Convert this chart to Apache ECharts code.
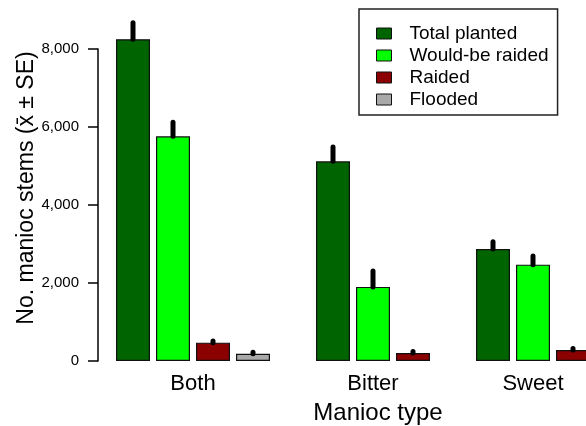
<!DOCTYPE html>
<html>
<head>
<meta charset="utf-8">
<script src="https://cdn.jsdelivr.net/npm/echarts@6/dist/echarts.min.js"></script>
<style>html,body{margin:0;padding:0;background:#fff;}#c{width:586px;height:426px;}</style>
</head>
<body>
<div id="c"></div>
<script>
// ---- data ----
var groups = ['Both', 'Bitter', 'Sweet'];
var seriesNames = ['Total planted', 'Would-be raided', 'Raided', 'Flooded'];
var totalPlanted   = [8250, 5120, 2870];
var wouldBeRaided  = [5760, 1900, 2470];
var raided         = [470, 205, 282];
var flooded        = [187, null, null];
var sePlanted      = [420, 370, 185];
var seWouldBe      = [365, 410, 220];
var seRaided       = [40, 40, 40];
var seFlooded      = [40, null, null];
var yTicks         = [0, 2000, 4000, 6000, 8000];

var colors = ['#006400', '#00FF00', '#8B0000', '#A9A9A9'];
var values = [totalPlanted, wouldBeRaided, raided, flooded];
var ses = [sePlanted, seWouldBe, seRaided, seFlooded];

// slot layout: bars side by side, one empty slot between groups
var pos = values.map(function(){ return []; });
var groupCenters = [];
var slot = 0;
groups.forEach(function(g, gi){
  var first = slot;
  values.forEach(function(arr, si){
    if (arr[gi] != null) { pos[si][gi] = slot; slot++; }
  });
  groupCenters.push((first + slot - 1) / 2);
  slot++;
});

var font = 'Liberation Sans, Arial, sans-serif';
var series = values.map(function(arr, si){
  var d = [];
  arr.forEach(function(v, gi){ if (v != null) d.push([pos[si][gi], v]); });
  return {
    name: seriesNames[si], type: 'bar', data: d, barWidth: 34, barGap: '-100%',
    clip: false,
    itemStyle: { color: colors[si], borderColor: '#111', borderWidth: 1.2 },
    emphasis: { disabled: true }
  };
});
var errData = [];
values.forEach(function(arr, si){
  arr.forEach(function(v, gi){ if (v != null) errData.push([pos[si][gi], v, v + ses[si][gi]]); });
});
series.push({
  type: 'custom', clip: false, data: errData, z: 10,
  renderItem: function(params, api){
    var p1 = api.coord([api.value(0), api.value(1)]);
    var p2 = api.coord([api.value(0), api.value(2)]);
    return { type: 'line', shape: { x1: p1[0], y1: p1[1], x2: p2[0], y2: p2[1] },
             style: { stroke: '#000', lineWidth: 5, lineCap: 'round' } };
  }
});

var chart = echarts.init(document.getElementById('c'), null, { renderer: 'canvas' });
chart.setOption({
  animation: false,
  backgroundColor: '#fff',
  grid: { left: 98, right: 0, top: 49, bottom: 65, containLabel: false, outerBoundsMode: 'none' },
  xAxis: {
    type: 'value', min: -0.875, max: 11.325,
    splitLine: { show: false }, axisLine: { show: false }, axisTick: { show: false },
    axisLabel: {
      customValues: groupCenters, margin: 12, fontSize: 22, fontFamily: font, color: '#000',
      showMinLabel: true, showMaxLabel: true,
      formatter: function(v){ var i = groupCenters.indexOf(v); return i >= 0 ? groups[i] : ''; }
    },
    name: 'Manioc type', nameLocation: 'middle', nameGap: 40, nameMoveOverlap: false,
    nameTextStyle: { fontSize: 24, fontFamily: font, color: '#000', padding: [0, 0, 0, 72] }
  },
  yAxis: {
    type: 'value', min: yTicks[0], max: yTicks[yTicks.length - 1], interval: 2000,
    splitLine: { show: false },
    axisLine: { show: true, onZero: false, lineStyle: { color: '#000', width: 1.5 } },
    axisTick: { show: true, length: 10, lineStyle: { color: '#000', width: 1.5 } },
    axisLabel: { margin: 19, fontSize: 15, fontFamily: font, color: '#000',
      formatter: function(v){ return v.toLocaleString('en-US'); } },
    name: 'No. manioc stems (x\u0304 \u00b1 SE)', nameLocation: 'middle', nameGap: 60, nameRotate: 90,
    nameMoveOverlap: false,
    nameTextStyle: { fontSize: 23, fontFamily: font, color: '#000', padding: [0, 0, 0, 34] }
  },
  legend: {
    data: seriesNames, orient: 'vertical', left: 359, top: 9,
    padding: [15, 9, 6, 17], itemGap: 3, itemWidth: 15, itemHeight: 11, icon: 'rect',
    borderColor: '#222', borderWidth: 1.5,
    itemStyle: { borderColor: '#111', borderWidth: 1 },
    textStyle: { fontSize: 19, fontFamily: font, color: '#000', lineHeight: 19, padding: [0, 0, 0, 13] }
  },
  series: series
});
</script>
</body>
</html>
